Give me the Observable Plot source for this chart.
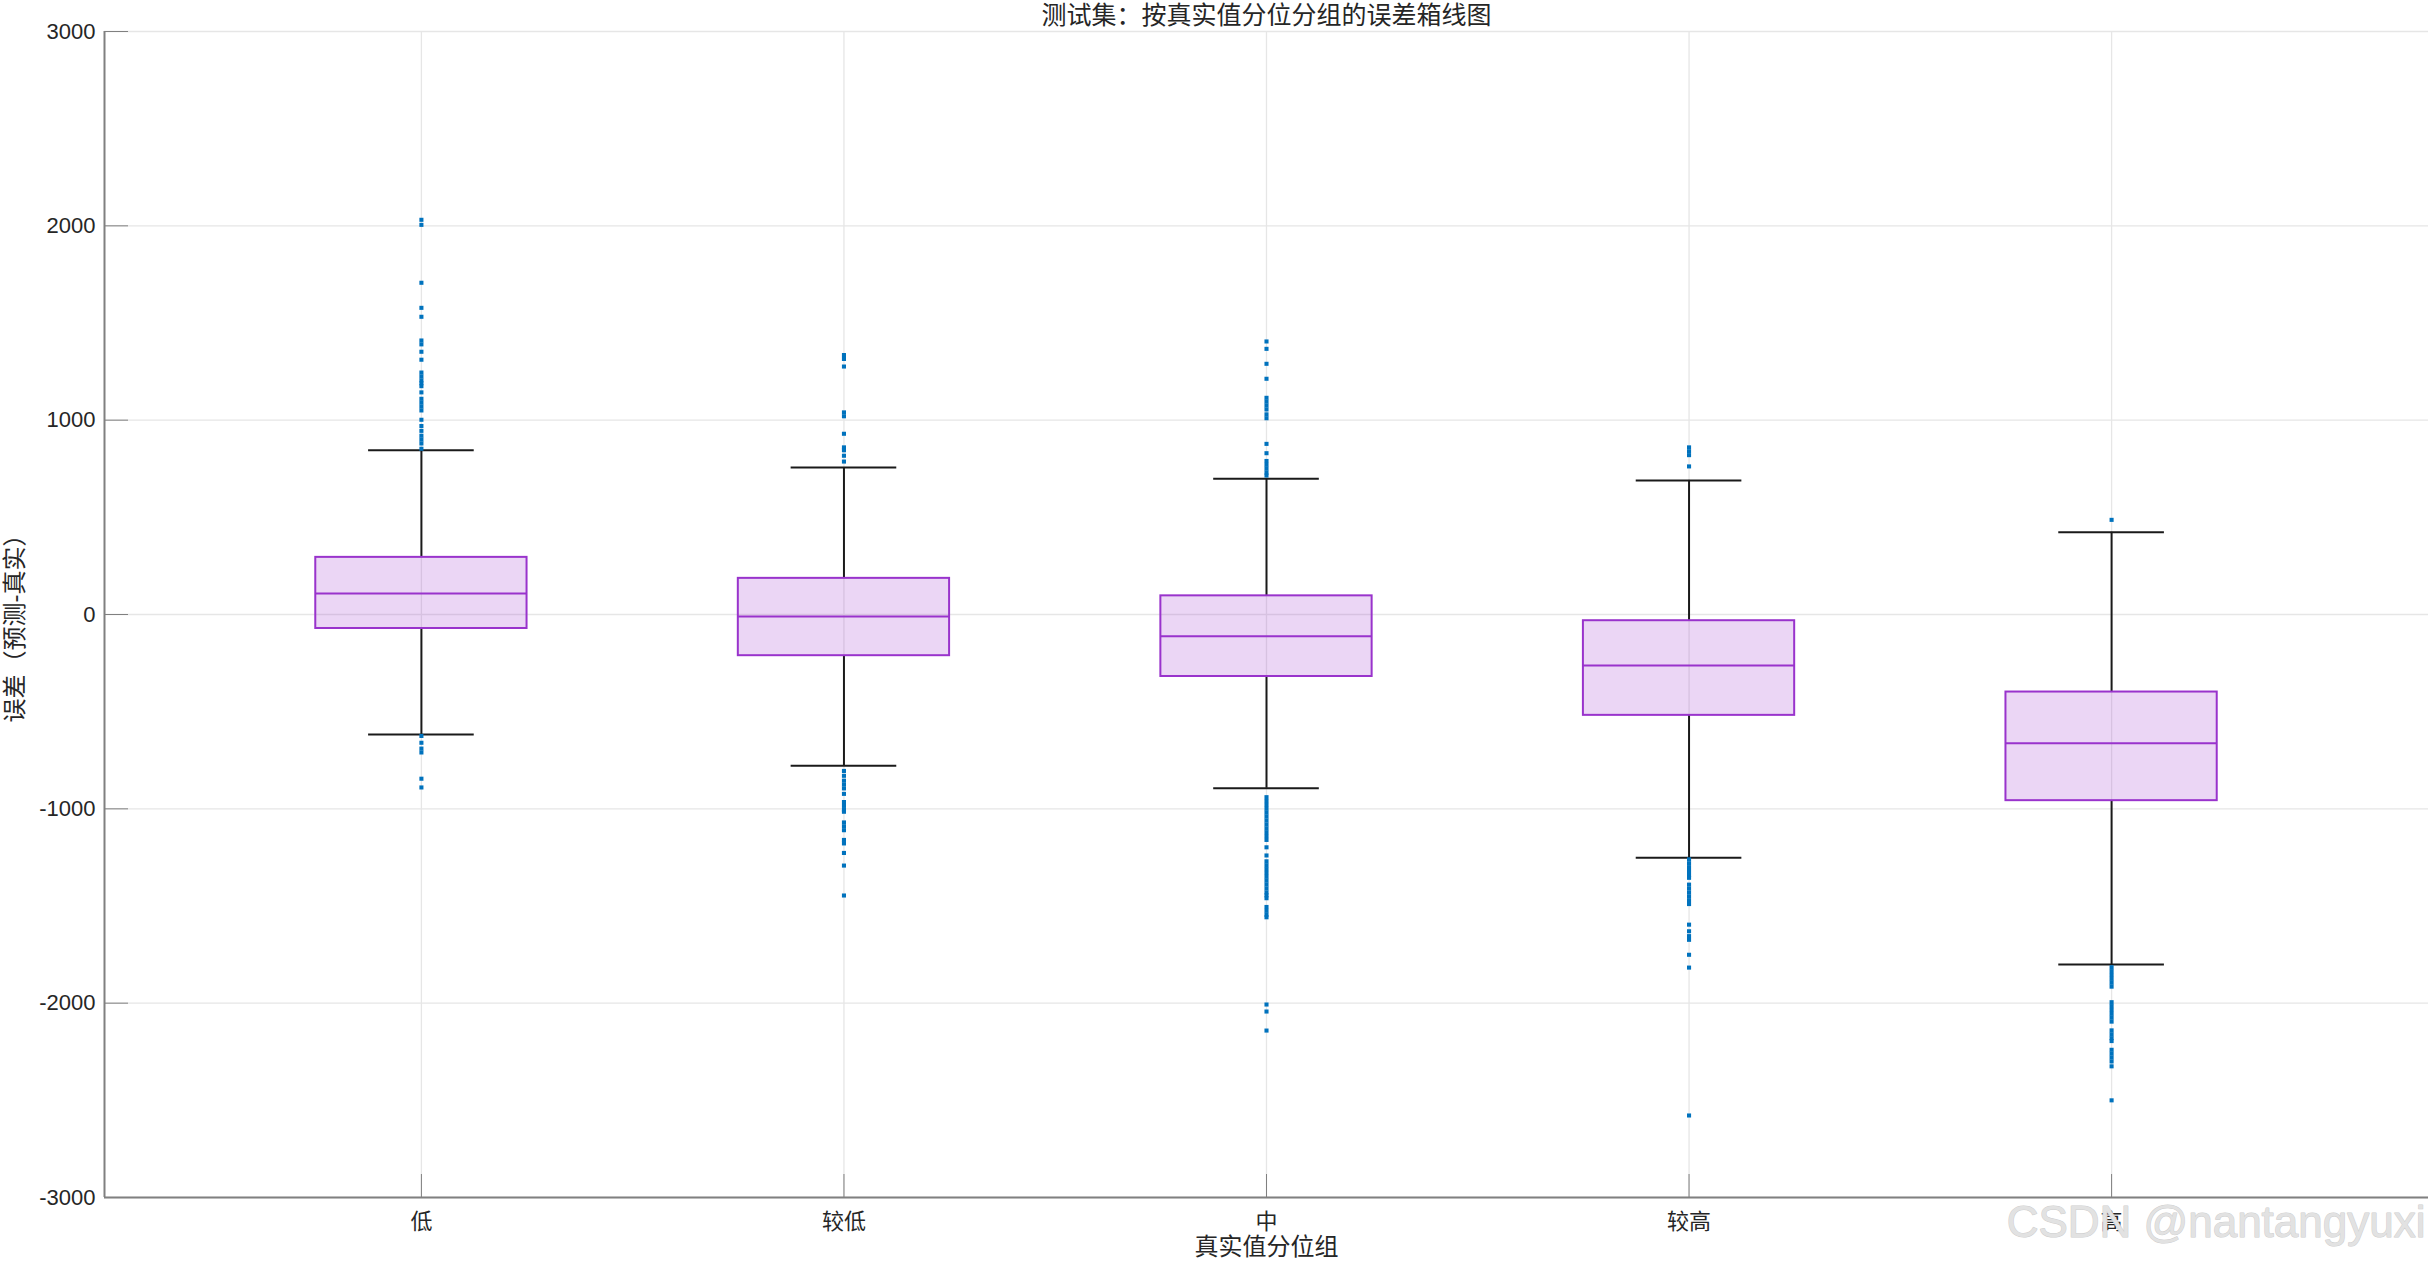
<!DOCTYPE html>
<html><head><meta charset="utf-8">
<script src="https://cdn.jsdelivr.net/npm/d3@7"></script>
<script src="https://cdn.jsdelivr.net/npm/@observablehq/plot@0.6"></script>
<style>html,body{margin:0;padding:0;background:#fff;overflow:hidden;}</style>
</head><body><div id="chart"></div>
<script>
const title = "测试集：按真实值分位分组的误差箱线图";
const xLabel = "真实值分位组";
const yLabel = "误差（预测-真实）";
const watermark = "CSDN @nantangyuxi";

const categories = ["低", "较低", "中", "较高", "高"];
const q1 = [-72, -212, -319, -519, -958];
const medians = [108, -10, -112, -263, -662];
const q3 = [294, 186, 96, -32, -399];
const whiskerLow = [-617, -778, -894, -1252, -1801];
const whiskerHigh = [845, 756, 698, 690, 423];

const outliers1 = [2031, 2005, 1707, 1578, 1532, 1410, 1390, 1352, 1311, 1245, 1225, 1205, 1190, 1175, 1143, 1110, 1090, 1070, 1050, 1002, 970, 945, 920, 900, 880, 853, -625, -660, -690, -710, -845, -890];
const outliers2 = [1335, 1315, 1276, 1040, 1020, 930, 860, 845, 817, 787, -805, -830, -855, -875, -895, -923, -965, -985, -1005, -1015, -1070, -1090, -1110, -1160, -1178, -1227, -1292, -1446];
const outliers3 = [1405, 1367, 1290, 1213, 1115, 1095, 1075, 1055, 1030, 1010, 878, 830, 790, 770, 750, 730, 715, -940, -960, -980, -1000, -1020, -1040, -1060, -1080, -1100, -1120, -1140, -1160, -1198, -1240, -1270, -1290, -1310, -1330, -1350, -1370, -1390, -1410, -1430, -1445, -1460, -1505, -1525, -1545, -1558, -2007, -2043, -2141];
const outliers4 = [860, 840, 820, 762, -1260, -1280, -1300, -1320, -1340, -1355, -1390, -1410, -1430, -1450, -1470, -1490, -1596, -1630, -1655, -1674, -1751, -1817, -2578];
const outliers5 = [487, -1815, -1835, -1855, -1875, -1895, -1915, -1995, -2015, -2035, -2055, -2075, -2095, -2140, -2160, -2180, -2195, -2240, -2260, -2280, -2300, -2325, -2500];

const yTicks = [-3000, -2000, -1000, 0, 1000, 2000, 3000];
const xTicks = [1, 2, 3, 4, 5];

const rows = categories.map((c, i) => ({pos: i + 1, cat: c, q1: q1[i], med: medians[i], q3: q3[i], lo: whiskerLow[i], hi: whiskerHigh[i]}));
const outRows = [outliers1, outliers2, outliers3, outliers4, outliers5].flatMap((arr, i) => arr.map(v => ({pos: i + 1, v})));

const boxHalf = 0.25, capHalf = 0.125;
const purple = "#9933cc", axisGray = "#808080", gridGray = "#e6e6e6";
const font = "'Liberation Sans', Arial, 'Noto Sans CJK SC', sans-serif";

const chart = Plot.plot({
  width: 2432, height: 1262,
  marginLeft: 104, marginRight: 4, marginTop: 31, marginBottom: 65,
  style: {fontFamily: font, fontSize: "22px", color: "#262626", background: "#fff"},
  x: {type: "linear", domain: [0.25, 5.75], label: null},
  y: {domain: [-3000, 3000], label: null},
  marks: [
    Plot.gridX(xTicks, {stroke: gridGray, strokeOpacity: 1, strokeWidth: 1.3}),
    Plot.gridY(yTicks, {stroke: gridGray, strokeOpacity: 1, strokeWidth: 1.3}),
    Plot.ruleX(rows, {x: "pos", y1: "q3", y2: "hi", stroke: "#1a1a1a", strokeWidth: 2}),
    Plot.ruleX(rows, {x: "pos", y1: "lo", y2: "q1", stroke: "#1a1a1a", strokeWidth: 2}),
    Plot.ruleY(rows, {y: "hi", x1: d => d.pos - capHalf, x2: d => d.pos + capHalf, stroke: "#1a1a1a", strokeWidth: 2}),
    Plot.ruleY(rows, {y: "lo", x1: d => d.pos - capHalf, x2: d => d.pos + capHalf, stroke: "#1a1a1a", strokeWidth: 2}),
    Plot.rect(rows, {x1: d => d.pos - boxHalf, x2: d => d.pos + boxHalf, y1: "q1", y2: "q3", fill: purple, fillOpacity: 0.2, stroke: purple, strokeWidth: 2}),
    Plot.ruleY(rows, {y: "med", x1: d => d.pos - boxHalf, x2: d => d.pos + boxHalf, stroke: purple, strokeWidth: 2}),
    Plot.dot(outRows, {x: "pos", y: "v", symbol: "square", r: 2.3, fill: "#0072BD", stroke: null}),
    Plot.ruleX([0.25], {stroke: axisGray, strokeWidth: 2}),
    Plot.ruleY([-3000], {stroke: axisGray, strokeWidth: 2}),
    Plot.axisX(xTicks, {tickSize: -23, tickPadding: 39, tickFormat: i => categories[i - 1], stroke: axisGray, fontSize: 22, label: null}),
    Plot.axisY(yTicks, {tickSize: -24, tickPadding: 33, tickFormat: d => String(d), stroke: axisGray, fontSize: 22, label: null}),
    Plot.text([title], {frameAnchor: "top", dy: -16, lineAnchor: "middle", fontSize: 25, fill: "#262626"}),
    Plot.text([xLabel], {frameAnchor: "bottom", dy: 50, lineAnchor: "middle", fontSize: 24, fill: "#262626"}),
    Plot.text([yLabel], {frameAnchor: "left", dx: -89, dy: 8, rotate: -90, textAnchor: "middle", lineAnchor: "middle", fontSize: 24, fill: "#262626"}),
    Plot.text([watermark], {frameAnchor: "bottom-right", dx: -3, dy: 25, textAnchor: "end", lineAnchor: "middle", fontSize: 44, fontFamily: "'Liberation Sans', Arial, sans-serif", fill: "#e2e2e2", stroke: "#cdcdcd", strokeWidth: 1})
  ]
});
document.getElementById("chart").appendChild(chart);
</script>
</body></html>
